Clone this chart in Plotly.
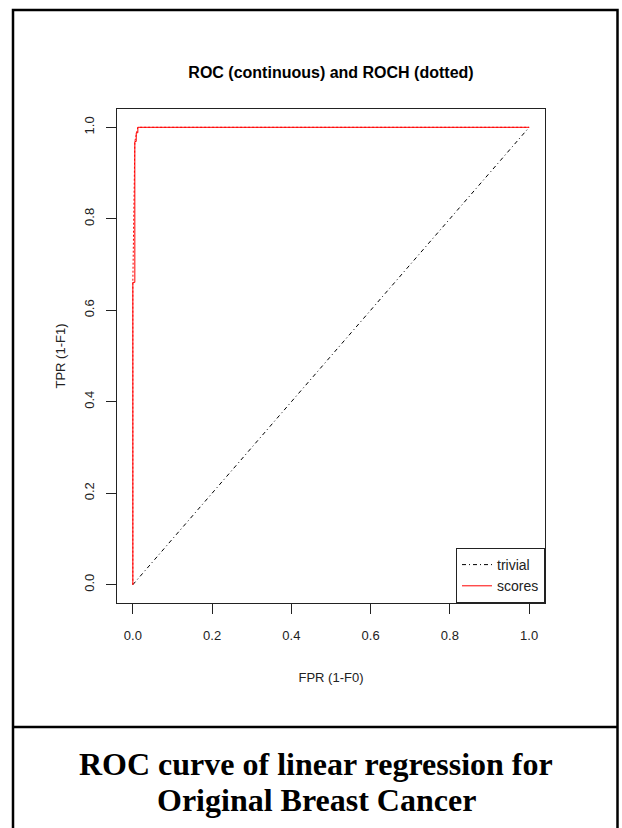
import plotly.graph_objects as go

# Data
trivial_x = [0.0, 1.0]
trivial_y = [0.0, 1.0]

roc_fpr = [0.0, 0.0, 0.005, 0.005, 0.0085, 0.0085, 0.0126, 0.0126, 1.0]
roc_tpr = [0.0, 0.661, 0.661, 0.969, 0.969, 0.988, 0.988, 1.0, 1.0]

roch_fpr = [0.0, 0.0, 0.005, 0.0085, 0.0126, 1.0]
roch_tpr = [0.0, 0.661, 0.969, 0.988, 1.0, 1.0]

tick_vals = [0.0, 0.2, 0.4, 0.6, 0.8, 1.0]
tick_text = ["0.0", "0.2", "0.4", "0.6", "0.8", "1.0"]

title_text = "<b>ROC (continuous) and ROCH (dotted)</b>"
caption_lines = ["<b>ROC curve of linear regression for</b>", "<b>Original Breast Cancer</b>"]

W, H = 622, 828
L, R, T, B = 117, 77, 109, 225
pw, ph = W - L - R, H - T - B


def px(x):
    return (x - L) / pw


def py(y):
    return (H - B - y) / ph


fig = go.Figure()
fig.add_trace(go.Scatter(x=trivial_x, y=trivial_y, mode="lines", name="trivial",
                         line=dict(color="black", width=1, dash="4px,3px,1px,3px")))
fig.add_trace(go.Scatter(x=roch_fpr, y=roch_tpr, mode="lines", name="ROCH", showlegend=False,
                         line=dict(color="#ff0000", width=1, dash="2px,2px")))
fig.add_trace(go.Scatter(x=roc_fpr, y=roc_tpr, mode="lines", name="scores",
                         line=dict(color="#ff0000", width=1)))

axis_common = dict(
    range=[-0.04, 1.04], tickvals=tick_vals, ticktext=tick_text,
    showgrid=False, zeroline=False, showline=True, mirror=True,
    linecolor="#222", linewidth=1, ticks="outside", ticklen=10,
    tickcolor="#222", tickwidth=1,
    tickfont=dict(family="Liberation Sans, Arial", size=13, color="#222"),
)

fig.update_layout(
    width=W, height=H,
    margin=dict(l=L, r=R, t=T, b=B),
    paper_bgcolor="white", plot_bgcolor="white",
    title=dict(text=title_text, x=0.5, xref="paper", y=1 - 72 / H, yanchor="middle",
               xanchor="center", font=dict(family="Liberation Sans, Arial", size=16, color="black")),
    xaxis=dict(**axis_common, ticklabelstandoff=10,
               title=dict(text="FPR (1-F0)", standoff=31,
                          font=dict(family="Liberation Sans, Arial", size=13, color="#222"))),
    yaxis=dict(**axis_common, tickangle=-90, ticklabelstandoff=7,
               title=dict(text="TPR (1-F1)", standoff=13,
                          font=dict(family="Liberation Sans, Arial", size=13, color="#222"))),
    legend=dict(x=1, y=0, xanchor="right", yanchor="bottom", bgcolor="white",
                bordercolor="#222", borderwidth=1,
                font=dict(family="Liberation Sans, Arial", size=14, color="#222")),
    showlegend=True,
)

# outer figure frame and caption separator
fig.add_shape(type="rect", xref="paper", yref="paper",
              x0=px(13), x1=px(617.5), y0=py(835), y1=py(10),
              line=dict(color="black", width=2.5), fillcolor="rgba(0,0,0,0)")
fig.add_shape(type="line", xref="paper", yref="paper",
              x0=px(13), x1=px(617.5), y0=py(727), y1=py(727),
              line=dict(color="black", width=2.5))

for line_text, yc in zip(caption_lines, [764, 800]):
    fig.add_annotation(text=line_text, xref="paper", yref="paper",
                       x=px(316), y=py(yc), xanchor="center", yanchor="middle",
                       showarrow=False,
                       font=dict(family="Liberation Serif, Times New Roman", size=32, color="black"))

fig.write_html("out.html")
